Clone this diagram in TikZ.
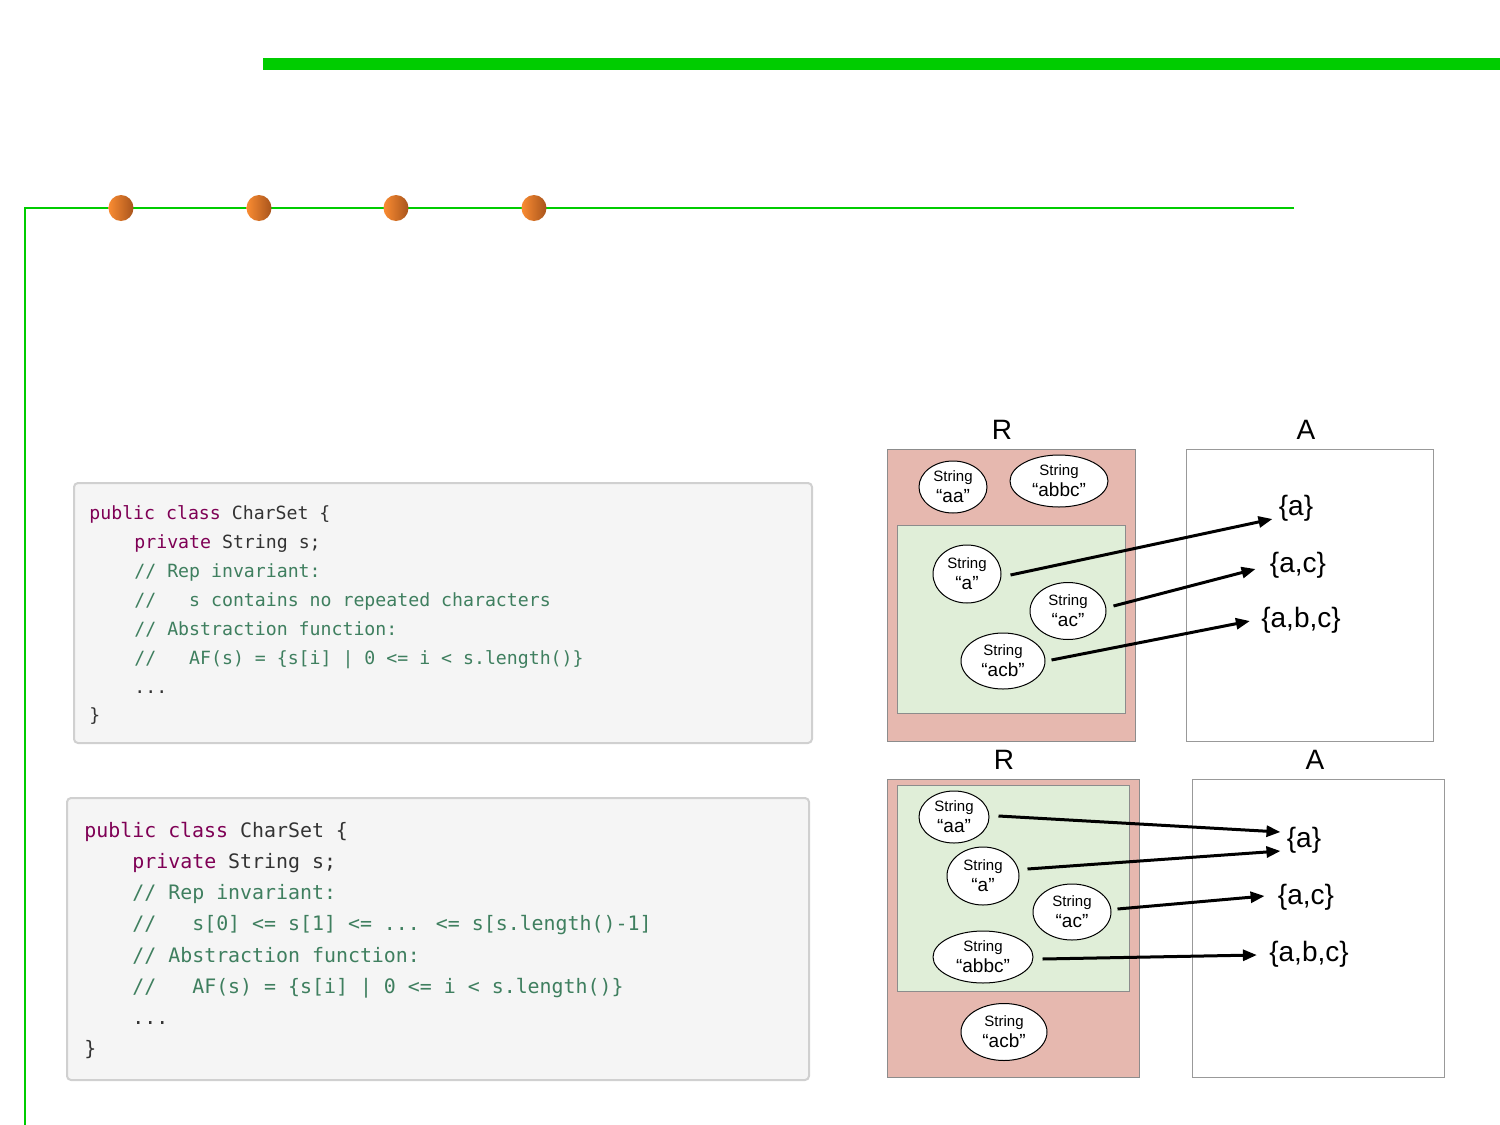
\documentclass[tikz,border=0pt]{standalone}
\usepackage{fontspec}
\setmainfont{Liberation Sans}
\newfontfamily\codefont{DejaVu Sans Mono}
\usetikzlibrary{shapes.geometric,arrows.meta,calc}
\definecolor{grn}{HTML}{00CC00}
\definecolor{kwc}{HTML}{7F0055}
\definecolor{cmc}{HTML}{3F7F5F}
\definecolor{txc}{HTML}{333333}
\definecolor{boxfill}{HTML}{F5F5F5}
\definecolor{boxline}{HTML}{D0D0D0}
\definecolor{rfill}{HTML}{E6B8AF}
\definecolor{gfill}{HTML}{E0EED8}
\definecolor{dotL}{HTML}{FA8C32}
\definecolor{dotR}{HTML}{A8541C}
\newcommand\kw[1]{\textcolor{kwc}{#1}}
\newcommand\cm[1]{\textcolor{cmc}{#1}}
\begin{document}
\begin{tikzpicture}[x=0.5pt,y=-0.5pt,
  codeA/.style={anchor=base west, inner sep=0pt, text=txc, font=\codefont\fontsize{9.1}{11}\selectfont},
  codeB/.style={anchor=base west, inner sep=0pt, text=txc, font=\codefont\fontsize{9.95}{12}\selectfont},
  codebox/.style={draw=boxline, line width=1pt, fill=boxfill, rounded corners=2pt},
  rbox/.style={draw=black!45, line width=0.5pt, fill=rfill},
  gbox/.style={draw=black!45, line width=0.5pt, fill=gfill},
  abox/.style={draw=black!40, line width=0.5pt, fill=white},
  strel/.style={ellipse, draw=black, line width=0.5pt, fill=white, inner sep=0pt},
  strtxt/.style={align=center, inner sep=0pt, font=\fontsize{9.5}{10.5}\selectfont},
  setlbl/.style={inner sep=0pt, font=\fontsize{14}{16}\selectfont},
  hdr/.style={inner sep=0pt, font=\fontsize{14}{16}\selectfont},
  arr/.style={line width=1.5pt, -{Triangle[length=7pt,width=5.5pt]}},
  dot/.style={left color=dotL, right color=dotR}
]
\useasboundingbox (0,0) rectangle (1500,1125);
\fill[white] (0,0) rectangle (1500,1125);
% green decorations
\fill[grn] (263,58) rectangle (1500,70);
\draw[grn, line width=1pt] (1294,208) -- (25,208) -- (25,1125);
\foreach \xx in {121,259,396,534}
  \shade[dot] (\xx,208) ellipse [x radius=6.25pt, y radius=6.5pt];

% code box 1
\draw[codebox] (74,483) rectangle (812,743);
\node[codeA] (a1) at (89,519) {\kw{public class} CharSet \{};
\node[codeA] (a2) at (134,548) {\kw{private} String s;};
\node[codeA] (a3) at (134,577) {\cm{// Rep invariant:}};
\node[codeA] (a4) at (134,606) {\cm{//~~~s contains no repeated characters}};
\node[codeA] (a5) at (134,635) {\cm{// Abstraction function:}};
\node[codeA] (a6) at (134,664) {\cm{//~~~AF(s) = \{s[i] | 0 <= i < s.length()\}}};
\node[codeA] (a7) at (134,693) {...};
\node[codeA] (a8) at (89,721) {\}};

% code box 2
\draw[codebox] (67,798) rectangle (809,1080);
\node[codeB] (b1) at (84,837) {\kw{public class} CharSet \{};
\node[codeB] (b2) at (132,868) {\kw{private} String s;};
\node[codeB] (b3) at (132,899) {\cm{// Rep invariant:}};
\node[codeB] (b4) at (132,930) {\cm{//~~~s[0] <= s[1] <= ... <= s[s.length()-1]}};
\node[codeB] (b5) at (132,962) {\cm{// Abstraction function:}};
\node[codeB] (b6) at (132,993) {\cm{//~~~AF(s) = \{s[i] | 0 <= i < s.length()\}}};
\node[codeB] (b7) at (132,1024) {...};
\node[codeB] (b8) at (84,1055) {\}};

% ---------- top diagram ----------
\node[hdr] (tR) at (1002,430) {R};
\node[hdr] (tA) at (1306,430) {A};
\draw[rbox] (887,449) rectangle (1135,741);
\draw[gbox] (897,525) rectangle (1125,713);
\draw[abox] (1186,449) rectangle (1433,741);

\node[strel, minimum width=34pt, minimum height=26pt] (ta) at (953,487) {};
\node[strtxt] at (ta) {{\fontsize{7.5}{9}\selectfont String}\\“aa”};
\node[strel, minimum width=49pt, minimum height=26pt] (tb) at (1059,481) {};
\node[strtxt] at (tb) {{\fontsize{7.5}{9}\selectfont String}\\“abbc”};
\node[strel, minimum width=34pt, minimum height=29pt] (tc) at (967,574) {};
\node[strtxt] at (tc) {{\fontsize{7.5}{9}\selectfont String}\\“a”};
\node[strel, minimum width=38pt, minimum height=28.5pt] (td) at (1068,611) {};
\node[strtxt] at (td) {{\fontsize{7.5}{9}\selectfont String}\\“ac”};
\node[strel, minimum width=42pt, minimum height=28pt] (te) at (1003,661) {};
\node[strtxt] at (te) {{\fontsize{7.5}{9}\selectfont String}\\“acb”};

\node[setlbl] (ts1) at (1296,508) {\{a\}};
\node[setlbl] (ts2) at (1298,565) {\{a,c\}};
\node[setlbl] (ts3) at (1301,620) {\{a,b,c\}};

\draw[arr] ($(tc.east)+(9,1)$) -- ($(ts1.west)+(-6,11)$);
\draw[arr] ($(td.east)+(7,-5)$) -- ($(ts2.west)+(-14,4)$);
\draw[arr] ($(te.east)+(6,-1)$) -- ($(ts3.west)+(-11,1)$);

% ---------- bottom diagram ----------
\node[hdr] (bR) at (1004,760) {R};
\node[hdr] (bA) at (1315,760) {A};
\draw[rbox] (887,779) rectangle (1139,1077);
\draw[gbox] (897,785) rectangle (1129,991);
\draw[abox] (1192,779) rectangle (1444,1077);

\node[strel, minimum width=35pt, minimum height=26pt] (ba) at (954,817) {};
\node[strtxt] at (ba) {{\fontsize{7.5}{9}\selectfont String}\\“aa”};
\node[strel, minimum width=36pt, minimum height=29pt] (bb) at (983,876) {};
\node[strtxt] at (bb) {{\fontsize{7.5}{9}\selectfont String}\\“a”};
\node[strel, minimum width=39pt, minimum height=28pt] (bc) at (1072,912) {};
\node[strtxt] at (bc) {{\fontsize{7.5}{9}\selectfont String}\\“ac”};
\node[strel, minimum width=50pt, minimum height=26pt] (bd) at (983,957) {};
\node[strtxt] at (bd) {{\fontsize{7.5}{9}\selectfont String}\\“abbc”};
\node[strel, minimum width=43pt, minimum height=28.5pt] (be) at (1004,1032) {};
\node[strtxt] at (be) {{\fontsize{7.5}{9}\selectfont String}\\“acb”};

\node[setlbl] (bs1) at (1304,840) {\{a\}};
\node[setlbl] (bs2) at (1306,897) {\{a,c\}};
\node[setlbl] (bs3) at (1309,954) {\{a,b,c\}};

\draw[arr] ($(ba.east)+(9,-1)$) -- ($(bs1.west)+(-6,-8)$);
\draw[arr] ($(bb.east)+(8,-7)$) -- ($(bs1.west)+(-6,11)$);
\draw[arr] ($(bc.east)+(6,-3)$) -- ($(bs2.west)+(-13,-1)$);
\draw[arr] ($(bd.east)+(9,2)$) -- ($(bs3.west)+(-12,1)$);
\end{tikzpicture}
\end{document}
